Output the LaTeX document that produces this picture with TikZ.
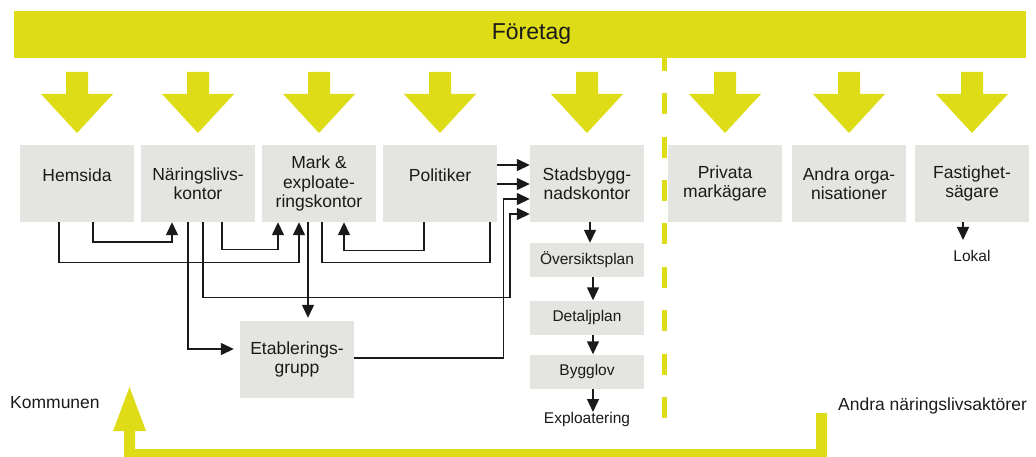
\documentclass[tikz,border=0pt]{standalone}
\usepackage{fontspec}
\setmainfont{Liberation Sans}
\usetikzlibrary{arrows.meta}
\definecolor{signal}{RGB}{222,220,22}
\definecolor{boxgray}{RGB}{228,229,224}
\definecolor{ink}{RGB}{26,26,26}
\pgfdeclarelayer{background}
\pgfsetlayers{background,main}

\begin{document}
\begin{tikzpicture}[x=1pt,y=-1pt,
  box/.style={fill=boxgray, minimum width=114pt, minimum height=77pt, inner sep=0pt,
    align=center, text=ink, font=\fontsize{17.5}{19.5}\selectfont},
  oneline/.style={text height=12pt, text depth=15pt},
  stepbox/.style={fill=boxgray, minimum width=114pt, minimum height=34pt, inner sep=0pt,
    text=ink, font=\fontsize{15.5}{18}\selectfont},
  note/.style={inner sep=0pt, text=ink, font=\fontsize{15.5}{18}\selectfont},
  side/.style={inner sep=0pt, text=ink, font=\fontsize{17.5}{20}\selectfont},
  conn/.style={draw=ink, line width=1.4pt, -{Triangle[length=13pt,width=12pt]}},
  ]
\useasboundingbox (0,0) rectangle (1036,457);

% dashed divider between the municipality and the other actors
\draw[signal, line width=5pt, dash pattern=on 21pt off 22.375pt] (664.5,50) -- (664.5,418);

% top band
\node[fill=signal, minimum width=1012pt, minimum height=47pt, inner sep=0pt, anchor=north west] (bar) at (14,11) {};
\node[inner sep=0pt, text=ink, font=\fontsize{23}{26}\selectfont] (foretag) at (531.5,33.5) {Företag};

% block arrows from the band down to each actor
\foreach \cx in {77,198,319,440,587,725,849,972}
  \fill[signal] (\cx-11,72) -- (\cx+11,72) -- (\cx+11,94) -- (\cx+36,94) -- (\cx,133)
    -- (\cx-36,94) -- (\cx-11,94) -- cycle;

% feedback arrow along the bottom
\fill[signal] (827,413) -- (827,457) -- (124,457) -- (124,431) -- (113,431) -- (129.5,387)
  -- (146,431) -- (135,431) -- (135,449) -- (816,449) -- (816,413) -- cycle;

% actors
\node[box, oneline] (hem)  at (77,183.5)  {Hemsida};
\node[box]          (nar)  at (198,183.5) {Näringslivs-\\kontor};
\node[box]          (mark) at (319,183.5) {Mark \&\\exploate-\\ringskontor};
\node[box, oneline] (pol)  at (440,183.5) {Politiker};
\node[box]          (stad) at (587,183.5) {Stadsbygg-\\nadskontor};
\node[box]          (priv) at (725,183.5) {Privata\\markägare};
\node[box]          (org)  at (849,183.5) {Andra orga-\\nisationer};
\node[box]          (fast) at (972,183.5) {Fastighet-\\sägare};
\node[box]          (etab) at (297,359.5) {Etablerings-\\grupp};

% planning steps
\node[stepbox] (opl) at (587,260)   {Översiktsplan};
\node[stepbox] (dpl) at (587,317.5) {Detaljplan};
\node[stepbox] (bgl) at (587,371.5) {Bygglov};
\node[note, anchor=north] (expl)  at (587,412) {Exploatering};
\node[note, anchor=north] (lokal) at (972,250) {Lokal};

% group labels
\node[side, anchor=west] (kommun) at (10,403)  {Kommunen};
\node[side, anchor=west] (andra)  at (838,406) {Andra näringslivsaktörer};

% connectors, kept behind the boxes
\begin{pgfonlayer}{background}
\draw[conn] ([xshift=16pt]hem.south) -- ++(0,20) -| ([xshift=-26pt]nar.south);
\draw[conn] ([xshift=-18pt]hem.south) -- ++(0,40) -| ([xshift=-20pt]mark.south);
\draw[conn] ([xshift=24pt]nar.south) -- ++(0,27) -| ([xshift=-41pt]mark.south);
\draw[conn, shorten >=6pt] ([xshift=-10pt]nar.south) |- ([yshift=10.5pt]etab.west);
\draw[conn] ([xshift=5pt]nar.south) -- ++(0,75) -- ++(307,0) |- ([yshift=-30.5pt]stad.west);
\draw[conn, shorten >=3pt] ([xshift=-11pt]mark.south) -- ([xshift=11pt]etab.north);
\draw[conn] ([xshift=-16pt]pol.south) -- ++(0,28) -| ([xshift=25pt]mark.south);
\draw[conn] ([xshift=3pt]mark.south) -- ++(0,40) -- ++(168,0) |- ([yshift=-0.5pt]stad.west);
\draw[conn] ([yshift=1.5pt]etab.east) -- ++(149,0) |- ([yshift=-15.5pt]stad.west);
\draw[conn] ([yshift=18.5pt]pol.east) -- ([yshift=18.5pt]stad.west);
\draw[conn] ([xshift=3pt]stad.south) -- ([xshift=3pt]opl.north);
\draw[conn] ([xshift=6pt]opl.south) -- ([xshift=6pt]dpl.north);
\draw[conn] ([xshift=6pt]dpl.south) -- ([xshift=6pt]bgl.north);
\draw[conn] ([xshift=6pt]bgl.south) -- ([xshift=6pt]expl.north);
\draw[conn, shorten >=10pt] ([xshift=-9pt]fast.south) -- ([xshift=-9pt]lokal.north);
\end{pgfonlayer}
\end{tikzpicture}
\end{document}
